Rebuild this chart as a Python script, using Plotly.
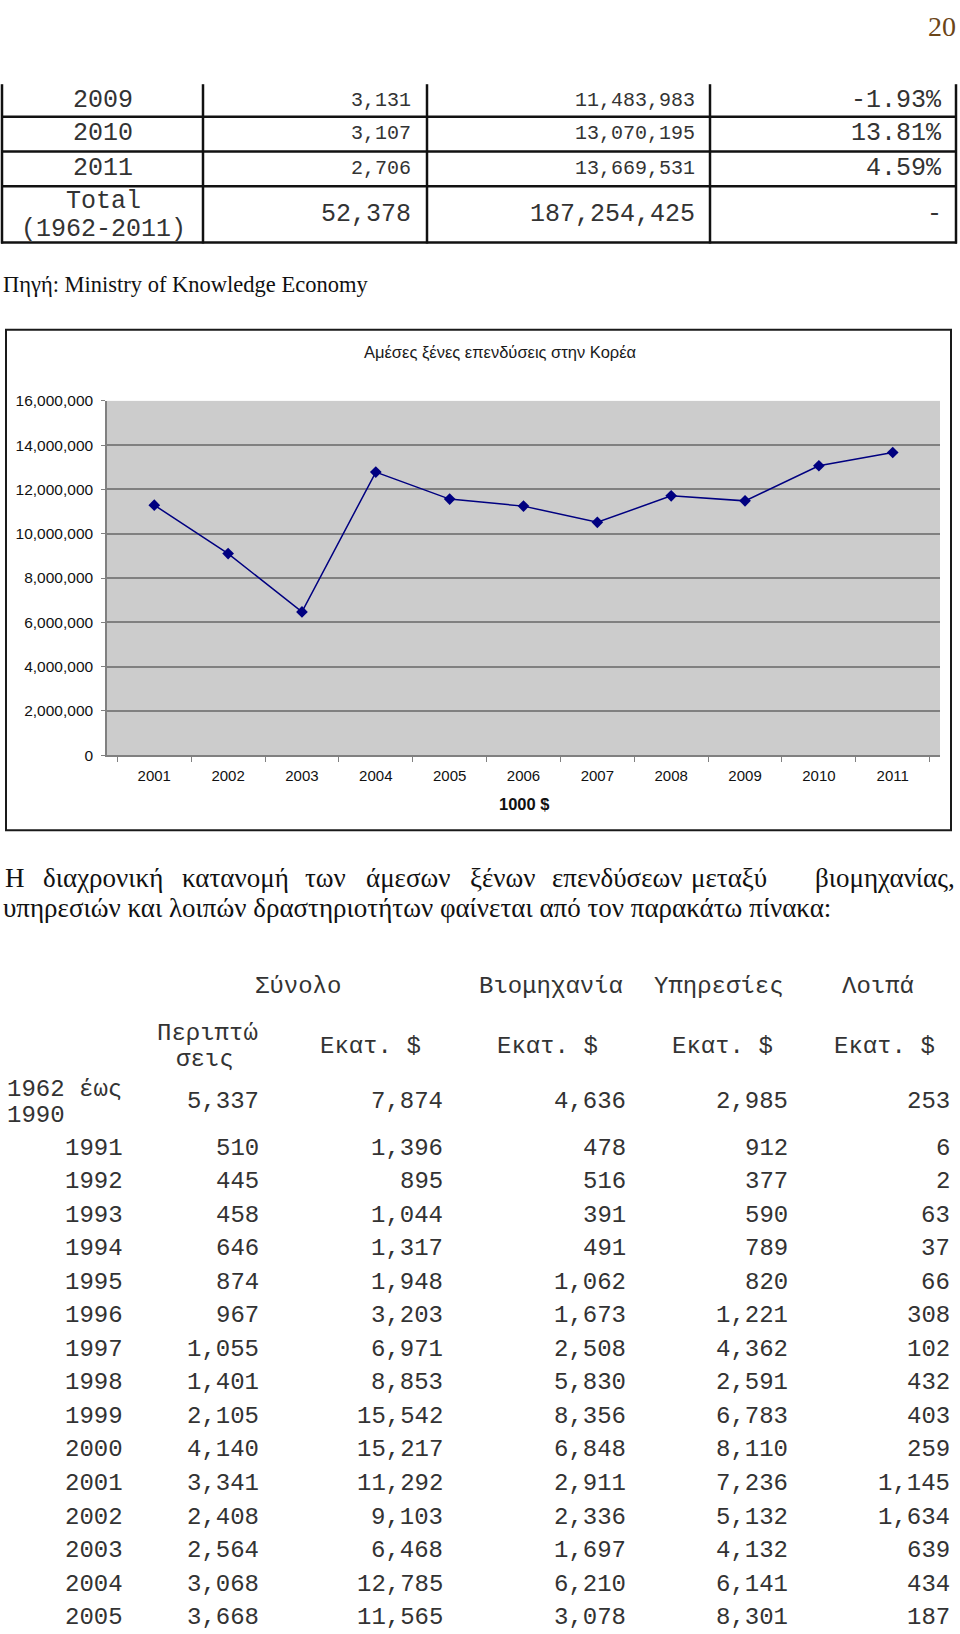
import plotly.graph_objects as go

W, H = 960, 1634

# ---------------- data ----------------
page_number = "20"

top_years = ["2009", "2010", "2011"]
top_cases = [3131, 3107, 2706]
top_amount = [11483983, 13070195, 13669531]
top_growth = [-1.93, 13.81, 4.59]
total_label = ["Total", "(1962-2011)"]
total_cases = 52378
total_amount = 187254425
total_growth = "-"

source_text = "Πηγή: Ministry of Knowledge Economy"

chart_title = "Αμέσες ξένες επενδύσεις στην Κορέα"
chart_xtitle = "1000 $"
fdi_years = ["2001", "2002", "2003", "2004", "2005", "2006", "2007", "2008", "2009", "2010", "2011"]
fdi_values = [11292000, 9103000, 6468000, 12785000, 11565000, 11247000,
              10516000, 11712000, 11483983, 13070195, 13669531]
y_ticks = [0, 2000000, 4000000, 6000000, 8000000, 10000000, 12000000, 14000000, 16000000]

para_line1 = ["Η", "διαχρονική", "κατανομή", "των", "άμεσων", "ξένων",
              "επενδύσεων", "μεταξύ", "βιομηχανίας,"]
para_line2 = "υπηρεσιών και λοιπών δραστηριοτήτων φαίνεται από τον παρακάτω πίνακα:"

t2_groups = ["Σύνολο", "Βιομηχανία", "Υπηρεσίες", "Λοιπά"]
t2_cases_head = ["Περιπτώ", "σεις"]
t2_unit = "Εκατ. $"
t2_first_period = ["1962 έως", "1990"]
t2_years = ["1991", "1992", "1993", "1994", "1995", "1996", "1997", "1998",
            "1999", "2000", "2001", "2002", "2003", "2004", "2005"]
t2_cases = [5337, 510, 445, 458, 646, 874, 967, 1055, 1401, 2105, 4140, 3341, 2408, 2564, 3068, 3668]
t2_total = [7874, 1396, 895, 1044, 1317, 1948, 3203, 6971, 8853, 15542, 15217, 11292, 9103, 6468, 12785, 11565]
t2_industry = [4636, 478, 516, 391, 491, 1062, 1673, 2508, 5830, 8356, 6848, 2911, 2336, 1697, 6210, 3078]
t2_services = [2985, 912, 377, 590, 789, 820, 1221, 4362, 2591, 6783, 8110, 7236, 5132, 4132, 6141, 8301]
t2_other = [253, 6, 2, 63, 37, 66, 308, 102, 432, 403, 259, 1145, 1634, 639, 434, 187]

# ---------------- helpers ----------------
MONO = "Courier New, Nimbus Mono PS, FreeMono, Liberation Mono, monospace"
SERIF = "Times New Roman, Liberation Serif, serif"
SANS = "Arial, Liberation Sans, sans-serif"
TXT = "#333333"


def px(x):
    return x / W


def py(y):
    return 1 - y / H


annotations = []
shapes = []


def text(s, x, y, size, family=MONO, anchor="center", color=TXT, bold=False, yanchor="middle"):
    if bold:
        s = "<b>" + s + "</b>"
    annotations.append(dict(text=s, x=px(x), y=py(y), xref="paper", yref="paper",
                            xanchor=anchor, yanchor=yanchor, showarrow=False,
                            font=dict(family=family, size=size, color=color)))


def line(x0, y0, x1, y1, width=2, color="#111"):
    shapes.append(dict(type="line", xref="paper", yref="paper",
                       x0=px(x0), y0=py(y0), x1=px(x1), y1=py(y1),
                       line=dict(color=color, width=width)))


# page number
text(page_number, 958, 0, 28, family=SERIF, anchor="right", color="#6b4518", yanchor="top")

# ---------------- top table ----------------
for xv in [2, 203, 427, 710, 956]:
    line(xv, 76, xv, 237, width=2.5)
for yv in [109, 144, 179, 236]:
    line(1, yv, 957, yv, width=2.5)

row_y = [92, 126, 161]
for i in range(3):
    text(top_years[i], 103, row_y[i], 25)
    text(f"{top_cases[i]:,}", 413, row_y[i], 20, anchor="right")
    text(f"{top_amount[i]:,}", 697, row_y[i], 20, anchor="right")
    text(f"{top_growth[i]:.2f}%", 944, row_y[i], 25, anchor="right")
text(total_label[0], 103, 195, 25)
text(total_label[1], 103, 223, 25)
text(f"{total_cases:,}", 413, 208, 25, anchor="right")
text(f"{total_amount:,}", 697, 208, 25, anchor="right")
text(total_growth, 944, 208, 25, anchor="right")

text(source_text, 1, 278, 22.5, family=SERIF, anchor="left", color="#111")

# ---------------- chart frame ----------------
shapes.append(dict(type="rect", xref="paper", yref="paper",
                   x0=px(6), y0=py(830), x1=px(951), y1=py(324),
                   line=dict(color="#1a1a1a", width=2), fillcolor="rgba(0,0,0,0)"))
text(chart_title, 500, 347, 16.5, family=SANS, color="#1a1a1a")
text(chart_xtitle, 524, 803, 16.5, family=SANS, color="#111", bold=True)

# ---------------- paragraph ----------------
word_x = [3, 103, 235, 325, 408, 503, 617, 729, 957]
for i, w in enumerate(para_line1):
    anc = "left" if i == 0 else ("right" if i == len(para_line1) - 1 else "center")
    text(w, word_x[i], 878, 27, family=SERIF, anchor=anc, color="#111")
text(para_line2, 1, 908, 27, family=SERIF, anchor="left", color="#111")

# ---------------- second table ----------------
for g, cx in zip(t2_groups, [298, 551, 719, 878]):
    text(g, cx, 988, 24)
text(t2_cases_head[0], 207, 1035, 24)
text(t2_cases_head[1], 205, 1062, 24)
for cx in [370, 547, 722, 884]:
    text(t2_unit, cx, 1048, 24)

text(t2_first_period[0], 5, 1092, 24, anchor="left")
text(t2_first_period[1], 5, 1118, 24, anchor="left")

col_right = [261, 445, 628, 790, 952]
cols = [t2_cases, t2_total, t2_industry, t2_services, t2_other]
row_ys = [1104] + [1151 + 33.9 * k for k in range(len(t2_years))]
for k, yv in enumerate(row_ys):
    if k > 0:
        text(t2_years[k - 1], 94, yv, 24)
    for c, xr in zip(cols, col_right):
        text(f"{c[k]:,}", xr, yv, 24, anchor="right")

# ---------------- figure ----------------
fig = go.Figure()
fig.add_trace(go.Scatter(
    x=fdi_years, y=fdi_values, mode="lines+markers",
    line=dict(color="#000080", width=1.5),
    marker=dict(symbol="diamond", size=9, color="#000080"),
    showlegend=False, hoverinfo="x+y"))

fig.update_layout(
    width=W, height=H, margin=dict(l=0, r=0, t=0, b=0),
    paper_bgcolor="white", plot_bgcolor="#cccccc",
    annotations=annotations, shapes=shapes,
    xaxis=dict(domain=[px(107), px(940)], type="category", showgrid=False,
               ticks="outside", tickson="boundaries", ticklen=5, tickcolor="#808080",
               showline=True, linecolor="#808080", linewidth=1.5,
               tickfont=dict(family=SANS, size=15, color="#111"),
               ticklabelstandoff=6, fixedrange=True),
    yaxis=dict(domain=[py(754), py(396)], range=[0, 16000000], tickvals=y_ticks,
               tickformat=",.0f", showgrid=True, gridcolor="#808080", gridwidth=1.5,
               zeroline=False, showline=True, linecolor="#808080", linewidth=1.5,
               ticks="outside", ticklen=4, tickcolor="#808080",
               tickfont=dict(family=SANS, size=15.5, color="#111"),
               ticklabelstandoff=5, fixedrange=True),
)

fig.write_html("out.html", config={"displayModeBar": False},
               post_script="document.body.style.margin='0';document.body.style.overflow='hidden';")
